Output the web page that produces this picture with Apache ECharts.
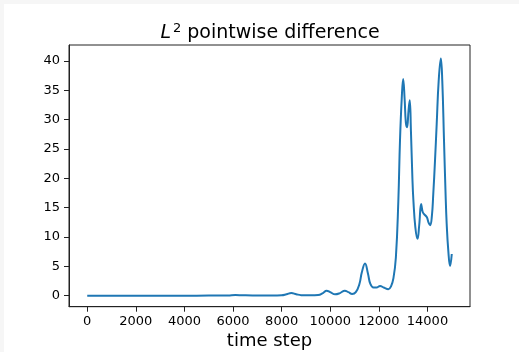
<!DOCTYPE html>
<html>
<head>
<meta charset="utf-8">
<script src="https://cdn.jsdelivr.net/npm/echarts@6/dist/echarts.min.js"></script>
<style>
html,body{margin:0;padding:0;background:#fff;}
#chart{width:519px;height:352px;}
</style>
</head>
<body>
<div id="chart"></div>
<script>
const steps = [0, 1000, 2000, 3000, 4000, 5000, 5800, 6100, 6400, 6800, 7200, 7600, 8000, 8200, 8400, 8600, 8800, 9200, 9500, 9700, 9850, 10000, 10200, 10400, 10600, 10750, 10900, 11050, 11200, 11300, 11430, 11550, 11650, 11780, 11900, 12050, 12200, 12390, 12500, 12600, 12700, 12800, 12870, 12940, 13000, 13060, 13110, 13160, 13220, 13270, 13320, 13380, 13420, 13500, 13590, 13660, 13740, 13800, 13860, 13970, 14050, 14110, 14180, 14240, 14310, 14380, 14460, 14550, 14610, 14680, 14740, 14790, 14860, 14930, 15000];
const diffValues = [0, 0, 0, 0, 0, 0.02, 0.05, 0.12, 0.08, 0.05, 0.05, 0.05, 0.08, 0.25, 0.45, 0.25, 0.1, 0.08, 0.12, 0.45, 0.85, 0.6, 0.25, 0.45, 0.85, 0.6, 0.3, 0.6, 2.0, 4.0, 5.5, 3.8, 2.0, 1.4, 1.4, 1.65, 1.4, 1.1, 1.6, 3.0, 6.5, 16, 26.5, 33.5, 36.9, 33.5, 29.5, 28.7, 31.5, 33.3, 28, 20, 16.3, 11.7, 9.7, 12, 15.6, 14.3, 13.9, 13.4, 12.4, 12.0, 13.5, 17.4, 23, 29.3, 36.5, 40.4, 36.5, 26.5, 18, 12.3, 7.5, 5.05, 7.1];
const xTicks = [0, 2000, 4000, 6000, 8000, 10000, 12000, 14000];
const yTicks = [0, 5, 10, 15, 20, 25, 30, 35, 40];

const seriesData = steps.map((s, i) => [s, diffValues[i]]);
const FONT = 'DejaVu Sans';
const chart = echarts.init(document.getElementById('chart'), null, {renderer: 'canvas'});
chart.setOption({
  animation: false,
  backgroundColor: '#fff',
  graphic: [
    {type: 'rect', shape: {x: 0, y: 0, width: 519, height: 4}, style: {fill: '#f6f6f6'}, z: -10},
    {type: 'rect', shape: {x: 0, y: 0, width: 4, height: 352}, style: {fill: '#f6f6f6'}, z: -10}
  ],
  title: {
    text: '{i|L}{s|2}{n| pointwise difference}',
    left: 265,
    top: 17,
    textAlign: 'center',
    textStyle: {
      fontWeight: 'normal',
      rich: {
        i: {fontFamily: FONT, fontStyle: 'italic', fontWeight: 'normal', fontSize: 19, color: '#000'},
        s: {fontFamily: FONT, fontWeight: 'normal', fontSize: 13, color: '#000', padding: [0, 0, 9, 2]},
        n: {fontFamily: FONT, fontWeight: 'normal', fontSize: 19, color: '#000'}
      }
    }
  },
  grid: {
    left: 69, right: 49, top: 45, bottom: 45.3,
    show: true, borderColor: '#222', borderWidth: 1,
    containLabel: false, outerBoundsMode: 'none'
  },
  xAxis: {
    type: 'value', min: -750, max: 15750,
    name: 'time step', nameLocation: 'middle', nameGap: 26,
    nameTextStyle: {fontFamily: FONT, fontSize: 18, color: '#000'},
    axisLine: {show: true, onZero: false, lineStyle: {color: '#222', width: 1}},
    axisTick: {show: true, length: 5, customValues: xTicks, lineStyle: {color: '#222', width: 1}},
    axisLabel: {customValues: xTicks, margin: 8, fontFamily: FONT, fontSize: 13, color: '#000',
      formatter: v => String(v)},
    splitLine: {show: false}
  },
  yAxis: {
    type: 'value', min: -1.87, max: 42.7,
    axisLine: {show: true, onZero: false, lineStyle: {color: '#222', width: 1}},
    axisTick: {show: true, length: 5, customValues: yTicks, lineStyle: {color: '#222', width: 1}},
    axisLabel: {customValues: yTicks, margin: 9, fontFamily: FONT, fontSize: 13, color: '#000',
      formatter: v => String(v)},
    splitLine: {show: false}
  },
  series: [{
    type: 'line',
    data: seriesData,
    showSymbol: false,
    smooth: 0.45,
    lineStyle: {color: '#1f77b4', width: 2},
    clip: true
  }]
});
</script>
</body>
</html>
